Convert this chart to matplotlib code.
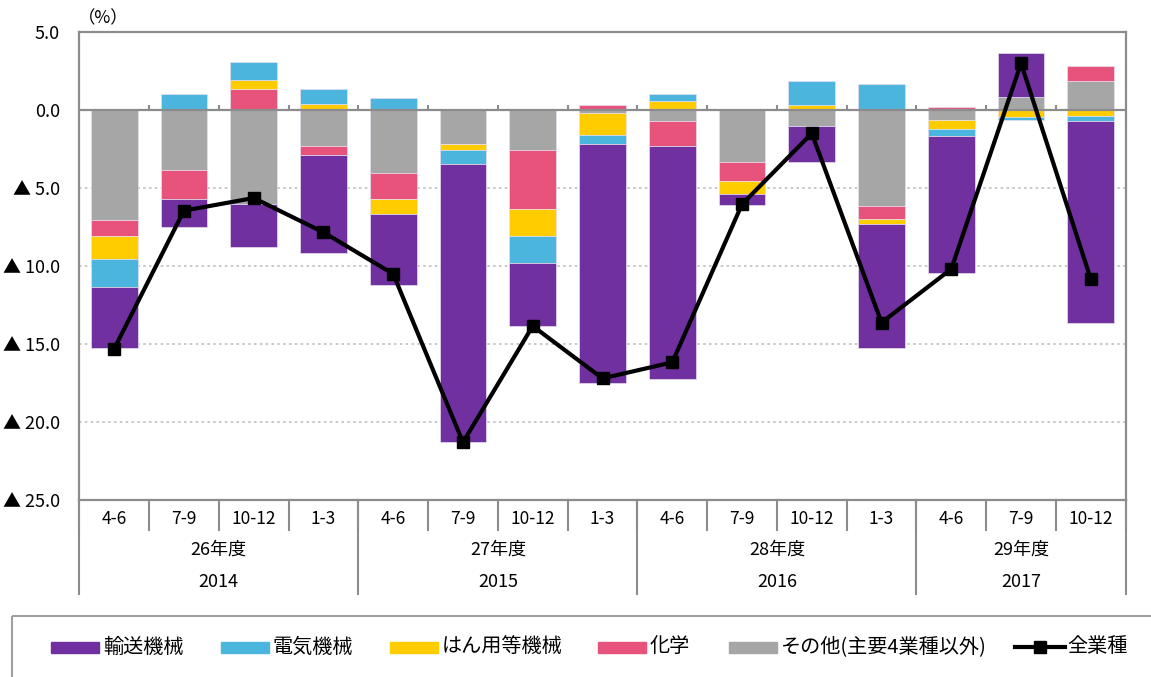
import numpy as np
import matplotlib.pyplot as plt
from matplotlib.patches import Rectangle
import matplotlib.transforms as mtransforms

plt.rcParams['font.family'] = ['Noto Sans CJK JP', 'DejaVu Sans']

# quarters / fiscal years / calendar years
quarters = ['4-6', '7-9', '10-12', '1-3', '4-6', '7-9', '10-12', '1-3',
            '4-6', '7-9', '10-12', '1-3', '4-6', '7-9', '10-12']
fiscal_years = ['26年度', '27年度', '28年度', '29年度']
years = ['2014', '2015', '2016', '2017']
group_sizes = [4, 4, 4, 3]

# contributions (%)
transport = [-3.92, -1.82, -2.76, -6.32, -4.60, -17.85, -4.03, -15.35,
             -14.95, -0.73, -2.34, -8.00, -8.81, 2.85, -12.95]
electric = [-1.80, 0.98, 1.18, 0.95, 0.77, -0.89, -1.77, -0.58,
            0.47, 0.00, 1.56, 1.69, -0.43, -0.21, -0.32]
general = [-1.47, 0.05, 0.55, 0.40, -0.96, -0.39, -1.69, -1.39,
           0.60, -0.83, 0.34, -0.30, -0.56, -0.43, -0.35]
chemical = [-1.03, -1.86, 1.37, -0.58, -1.67, 0.00, -3.78, 0.32,
            -1.62, -1.24, 0.00, -0.85, 0.23, 0.00, 0.96]
other = [-7.05, -3.81, -5.99, -2.27, -4.00, -2.16, -2.57, -0.19,
         -0.67, -3.30, -1.00, -6.12, -0.64, 0.83, 1.86]
total = [-15.3, -6.44, -5.63, -7.83, -10.5, -21.3, -13.84, -17.2,
         -16.17, -6.03, -1.48, -13.62, -10.18, 3.01, -10.84]

names = ['輸送機械', '電気機械', 'はん用等機械', '化学', 'その他(主要4業種以外)']
colors = ['#7030A0', '#4BB5DE', '#FFCC00', '#E8537B', '#A6A6A6']
series = [transport, electric, general, chemical, other]

W, H = 1151, 677
fig = plt.figure(figsize=(W / 100, H / 100), dpi=100)
L, R, T, B = 79.3, 1125.7, 32.3, 500
ax = fig.add_axes([L / W, 1 - B / H, (R - L) / W, (B - T) / H])

x = np.arange(len(quarters))
pos = np.zeros(len(x))
neg = np.zeros(len(x))
# stacking outward from zero: other, chemical, general, electric, transport
for i in [4, 3, 2, 1, 0]:
    v = np.array(series[i])
    bottom = np.where(v >= 0, pos, neg)
    ax.bar(x, v, 0.67, bottom=bottom, color=colors[i], edgecolor='#E6E0EE',
           linewidth=0.5, zorder=2)
    pos = pos + np.where(v >= 0, v, 0)
    neg = neg + np.where(v < 0, v, 0)

ax.plot(x, total, color='black', lw=3, marker='s', ms=8.5, zorder=4)

ax.set_xlim(-0.5, len(x) - 0.5)
ax.set_ylim(-25, 5)
yt = [5, 0, -5, -10, -15, -20, -25]
ax.set_yticks(yt)
ax.set_yticklabels([f'{v:.1f}' if v >= 0 else f'▲ {abs(v):.1f}' for v in yt],
                   fontsize=13)
ax.tick_params(axis='y', length=0, pad=14)
ax.set_xticks([])
for g in [-5, -10, -15, -20]:
    ax.axhline(g, color='#BFBFBF', lw=1.2, ls=(0, (1.5, 2)), zorder=1)
ax.axhline(0, color='#8C8C8C', lw=1.6, zorder=3)
ax.vlines(np.arange(len(x) - 1) + 0.5, 0, 0.32, color='#8C8C8C', lw=1.5, zorder=3)
for s in ax.spines.values():
    s.set_color('#8C8C8C')
    s.set_linewidth(1.6)

# category table below
tr = mtransforms.blended_transform_factory(ax.transData, ax.transAxes)
for i, q in enumerate(quarters):
    ax.text(i, -0.040, q, transform=tr, ha='center', va='center', fontsize=12.5)
for i in range(len(x) + 1):
    ax.plot([i - 0.5, i - 0.5], [0, -0.065], transform=tr, color='#8C8C8C',
            lw=1.5, clip_on=False)
start = 0
for fy, yr, n in zip(fiscal_years, years, group_sizes):
    c = start + (n - 1) / 2
    ax.text(c, -0.107, fy, transform=tr, ha='center', va='center', fontsize=13)
    ax.text(c, -0.175, yr, transform=tr, ha='center', va='center', fontsize=13)
    ax.plot([start - 0.5] * 2, [0, -0.201], transform=tr, color='#8C8C8C',
            lw=1.5, clip_on=False)
    start += n
ax.plot([start - 0.5] * 2, [0, -0.201], transform=tr, color='#8C8C8C',
        lw=1.5, clip_on=False)

fig.text(78 / W, 1 - 18 / H, '（%）', fontsize=12.5, ha='left', va='center')

# legend
lg = fig.add_axes([0, 0, 1, 1], zorder=5)
lg.set_xlim(0, W)
lg.set_ylim(H, 0)
lg.axis('off')
lg.add_patch(Rectangle((12, 616), 1160, 80, fill=False, edgecolor='#A0A0A0', lw=1.5))
ly = 647
patch_x = [51, 221, 390, 598, 729]
for px, c, nm in zip(patch_x, colors, names):
    lg.add_patch(Rectangle((px, ly - 5.5), 48, 11, color=c))
    lg.text(px + 52, ly, nm, fontsize=14.5, ha='left', va='center')
lg.plot([1015, 1065], [ly, ly], color='black', lw=3)
lg.plot([1040], [ly], marker='s', color='black', ms=8)
lg.text(1067, ly, '全業種', fontsize=14.5, ha='left', va='center')

fig.savefig('out.png', dpi=100)
